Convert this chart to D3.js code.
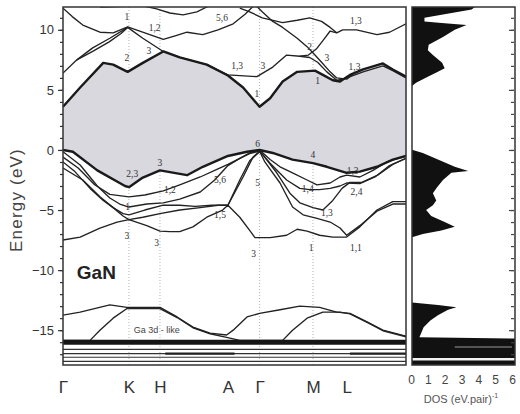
<!DOCTYPE html>
<html>
<head>
<meta charset="utf-8">
<script src="https://cdn.jsdelivr.net/npm/d3@7"></script>
<style>
  body { margin: 0; background: #fff; }
  svg { display: block; }
</style>
</head>
<body>
<svg id="chart" width="520" height="414"></svg>
<script>
// ---- k-path (arbitrary path-length units) ----
const kPoints = [0, 1.0, 1.47, 2.5, 2.98, 3.79, 4.3];
const kLabels = ["Γ", "K", "H", "A", "Γ", "M", "L"];
const kGuides = [1.0, 1.47, 2.98, 3.79];
const energyTicks = [-15, -10, -5, 0, 5, 10];
const dosTicks = [0, 1, 2, 3, 4, 5, 6];

// ---- bands: [k, E (eV)] ----
const cbLowest = [[0,3.6],[0.26,5.2],[0.61,7.25],[0.76,7.1],[0.98,6.5],[1.21,7.25],[1.52,8.2],[1.77,7.7],[2.18,7.1],[2.5,6.2],[2.73,5.2],[2.98,3.6],[3.14,4.3],[3.33,5.7],[3.55,6.5],[3.82,6.6],[3.94,6.25],[4.09,5.8],[4.2,5.7],[4.35,6.25],[4.55,6.7],[4.85,7.2],[5.0,6.7],[5.2,6.1]];
const vbTop = [[0,0],[0.15,-0.15],[0.52,-1.7],[0.94,-3.0],[1.0,-3.1],[1.21,-2.3],[1.47,-1.7],[1.88,-2.1],[2.12,-1.4],[2.5,-0.5],[2.79,-0.15],[2.98,0],[3.18,-0.25],[3.48,-0.8],[3.79,-1.1],[4.0,-1.4],[4.3,-1.9],[4.5,-1.8],[4.76,-1.4],[5.0,-0.8],[5.2,-0.5]];

const cbA = [[0,6.4],[0.21,7.5],[0.45,8.5],[0.71,9.3],[0.98,10.2],[1.21,9.3],[1.52,8.2],[1.77,7.7],[2.18,7.1],[2.5,6.25],[2.94,6.1],[3.18,6.9],[3.39,7.9],[3.59,7.8],[3.74,7.7],[3.86,7.3],[4.0,6.5],[4.15,5.8],[4.3,6.0],[4.55,6.5],[4.85,7.0],[5.0,6.6],[5.2,6.0]];
const cbB = [[0.21,7.5],[0.45,8.2],[0.7,9.0],[0.88,9.7],[0.98,10.2]];
const cbC = [[0,11.8],[0.14,11.1],[0.3,10.4],[0.56,9.8],[0.76,9.75],[0.98,10.25],[1.24,9.75],[1.52,9.2],[1.7,9.5],[1.88,9.8],[2.12,9.6],[2.35,10.0],[2.58,10.5],[2.76,11.3],[2.91,12.1]];
const cbD = [[2.91,12.1],[3.02,11.5],[3.18,10.7],[3.33,10.2],[3.55,9.3],[3.7,8.6],[3.82,7.9],[3.92,7.3],[4.05,6.5],[4.15,6.0],[4.3,5.9],[4.4,6.3]];
const cbE = [[2.68,11.8],[2.83,11.5],[3.02,11.0],[3.33,10.6],[3.55,10.8],[3.74,11.0],[3.92,10.7],[4.05,10.2],[4.15,9.75],[4.24,10.0],[4.45,10.0],[4.76,9.6],[4.95,9.8],[5.2,10.5]];
const cbF = [[3.59,7.8],[3.72,7.9],[3.84,8.4],[3.94,9.1],[4.05,9.9],[4.15,9.75]];
const cbG = [[0.56,11.9],[1.21,12.0],[1.42,11.75],[1.62,11.4],[1.82,11.25],[2.03,11.5],[2.18,11.9],[2.3,12.2]];

const vbA = [[0,-0.15],[0.26,-1.25],[0.52,-3.0],[0.71,-4.0],[0.86,-4.5],[1.0,-4.75],[1.27,-4.5],[1.52,-4.4],[1.77,-4.1],[2.08,-3.5],[2.3,-2.5],[2.5,-1.3],[2.68,-0.7],[2.83,-0.25],[2.98,0],[3.14,-0.8],[3.29,-1.4],[3.48,-1.9],[3.7,-2.5],[3.85,-2.9],[4.05,-2.75],[4.2,-2.25],[4.3,-2.1],[4.5,-2.25],[4.7,-1.7],[4.91,-1.0],[5.2,-0.5]];
const vbB = [[0,-0.6],[0.23,-1.5],[0.48,-2.9],[0.71,-3.7],[1.0,-3.9],[1.24,-3.75],[1.52,-3.4],[1.77,-2.9],[2.08,-2.25],[2.3,-1.7],[2.5,-1.2],[2.68,-0.7],[2.83,-0.3],[2.98,-0.1],[3.14,-1.1],[3.39,-2.5],[3.59,-3.2],[3.74,-3.3],[3.89,-3.3],[4.05,-3.2],[4.2,-3.0],[4.3,-2.75],[4.5,-2.8],[4.73,-2.25],[4.95,-1.3],[5.2,-0.7]];
const vbC = [[0,-1.0],[0.18,-1.8],[0.41,-3.2],[0.61,-4.2],[0.76,-4.8],[0.91,-5.3],[1.0,-5.4],[1.24,-5.0],[1.52,-4.6],[1.77,-4.6],[2.0,-4.7],[2.26,-4.6],[2.5,-4.6],[2.68,-2.5],[2.83,-0.9],[2.98,-0.15],[3.03,-0.4],[3.24,-1.9],[3.44,-3.6],[3.59,-4.4],[3.79,-4.8],[3.94,-5.0],[4.09,-4.2],[4.23,-3.2],[4.35,-2.7],[4.53,-2.7],[4.77,-2.1],[5.0,-1.2],[5.2,-0.7]];
const vbD = [[0,-1.5],[0.3,-2.5],[0.56,-3.9],[0.76,-4.8],[0.91,-5.5],[1.0,-5.8],[1.21,-5.6],[1.47,-5.3],[1.77,-5.0],[2.08,-4.8],[2.35,-4.6],[2.5,-4.6],[2.73,-2.25],[2.88,-0.6],[2.98,-0.1],[3.06,-1.0],[3.29,-2.75],[3.48,-4.75],[3.64,-5.4],[3.85,-5.7],[4.05,-6.0],[4.2,-6.5],[4.3,-7.1],[4.5,-6.3],[4.76,-5.1],[5.0,-4.5],[5.2,-4.5]];
const vbE = [[0,-7.5],[0.26,-7.25],[0.56,-6.5],[0.82,-6.0],[1.0,-5.8],[1.27,-6.3],[1.47,-6.75],[1.62,-6.8],[1.77,-6.8],[1.97,-6.4],[2.18,-5.6],[2.42,-5.0],[2.5,-4.6],[2.68,-5.6],[2.83,-6.7],[2.91,-7.3],[3.14,-7.3],[3.39,-7.1],[3.55,-6.6],[3.7,-6.75],[3.89,-7.1],[4.09,-7.25],[4.3,-7.25],[4.5,-6.4],[4.76,-5.0],[5.0,-4.3],[5.2,-4.3]];

// Ga 3d-like semicore bands
const dA = [[0,-13.75],[0.26,-13.5],[0.71,-12.9],[0.97,-13.1],[1.47,-13.1],[1.73,-13.9],[1.97,-14.75],[2.23,-15.25],[2.48,-15.4],[2.58,-15.0],[2.79,-13.9],[2.98,-13.6],[3.29,-13.3],[3.59,-13.0],[3.89,-13.1],[4.15,-13.5],[4.35,-13.6],[4.61,-14.3],[4.85,-15.0],[5.2,-15.5]];
const dB = [[0,-15.85],[0.41,-15.85],[0.56,-15.0],[0.76,-14.0],[0.97,-13.2],[1.47,-13.2],[1.73,-13.95],[1.97,-14.8],[2.23,-15.3],[2.48,-15.6],[2.68,-15.85],[3.33,-15.85],[3.48,-15.0],[3.7,-14.0],[3.94,-13.5],[4.2,-13.5],[4.35,-13.65],[4.61,-14.35],[4.85,-15.05],[5.2,-15.55]];
// flat bands: [kStart, kEnd, E]
const flatMain = [[0,5.2,-16.0]];
const flatBands = [[0,5.2,-16.6],[0,5.2,-16.95],[0,5.2,-17.25],[0,5.2,-17.6]];
const flatHeavy = [[1.55,2.6,-16.95],[4.35,5.2,-16.95]];

// ---- density of states: [E, DOS] ----
const dosE = [11.9,11.7,11.0,10.7,10.55,10.4,10.0,9.4,8.75,8.3,7.9,7.25,6.8,6.5,6.1,5.6,5.25,0.05,-0.25,-0.8,-1.4,-1.75,-1.9,-2.5,-3.1,-3.6,-4.2,-4.6,-5.0,-5.5,-6.0,-6.4,-6.7,-7.0,-7.3,-12.7,-12.9,-13.1,-13.3,-13.75,-14.2,-14.75,-15.25,-15.6,-15.7,-17.9];
const dosV = [3.8,3.6,0.8,0.8,2.0,3.3,2.6,1.9,1.05,1.0,1.3,1.85,2.0,1.6,1.0,0.3,0,0,0.7,1.6,2.6,3.4,2.4,1.9,1.55,1.3,1.5,1.3,0.9,1.2,2.0,2.6,1.8,0.7,0,0,1.6,2.7,2.2,1.6,1.15,0.75,0.6,0.5,6.5,6.5];

// ---- symmetry labels: [k, E, text] ----
const bandLabels = [
  [0.97,11.1,"1"],[1.39,10.2,"1,2"],[2.41,11.0,"5,6"],[0.97,7.7,"2"],[1.3,8.3,"3"],
  [2.64,7.0,"1,3"],[3.03,7.0,"3"],[2.94,4.7,"1"],[3.74,8.6,"2"],[4.0,7.7,"3"],
  [3.86,5.8,"1"],[4.44,10.8,"1,3"],[4.42,6.9,"1,3"],
  [1.05,-2.0,"2,3"],[1.47,-1.1,"3"],[1.62,-3.3,"1,2"],[0.98,-4.7,"1"],[2.38,-2.5,"5,6"],
  [2.38,-5.4,"1,5"],[2.95,0.5,"6"],[2.95,-2.75,"5"],[3.79,-0.4,"4"],[4.39,-1.7,"1,3"],
  [3.71,-3.2,"1,4"],[4.45,-3.5,"2,4"],[4.0,-5.25,"1,3"],[0.97,-7.1,"3"],[1.42,-7.7,"3"],
  [2.89,-8.6,"3"],[3.76,-8.1,"1"],[4.44,-8.1,"1,1"]
];

// ---- layout ----
const svg = d3.select("#chart");
const main = { left: 63, right: 406, top: 7, bottom: 365 };
const dosBox = { left: 412, right: 515 };

const x = d3.scaleLinear().domain([0, 5.2]).range([main.left, main.right]);
const y = d3.scaleLinear().domain([-17.9, 11.9]).range([main.bottom, main.top]);
const xd = d3.scaleLinear().domain([0, 6]).range([411, 512]);

const defs = svg.append("defs");
defs.append("clipPath").attr("id", "clipMain").append("rect")
  .attr("x", main.left).attr("y", main.top)
  .attr("width", main.right - main.left).attr("height", main.bottom - main.top);
defs.append("clipPath").attr("id", "clipDos").append("rect")
  .attr("x", dosBox.left).attr("y", main.top)
  .attr("width", dosBox.right - dosBox.left).attr("height", main.bottom - main.top);

const line = d3.line().x(d => x(d[0])).y(d => y(d[1]));
const plot = svg.append("g").attr("clip-path", "url(#clipMain)");

// dotted guides at symmetry points
plot.selectAll("line.guide").data(kGuides).join("line")
  .attr("class", "guide")
  .attr("x1", d => x(d)).attr("x2", d => x(d))
  .attr("y1", main.top).attr("y2", main.bottom)
  .attr("stroke", "#b4b4b4").attr("stroke-width", 1).attr("stroke-dasharray", "1,2");

// shaded gap between valence-band top and conduction-band bottom
plot.append("path")
  .attr("d", line(cbLowest.concat(vbTop.slice().reverse())) + "Z")
  .attr("fill", "#d8d8de");

// regular bands
const thinBands = [cbA, cbB, cbC, cbD, cbE, cbF, cbG, vbA, vbB, vbC, vbD, vbE, dA, dB];
plot.selectAll("path.band").data(thinBands).join("path")
  .attr("class", "band")
  .attr("d", line)
  .attr("fill", "none").attr("stroke", "#222").attr("stroke-width", 1.35)
  .attr("stroke-linejoin", "round");

// band-edge bands
plot.selectAll("path.edge").data([cbLowest, vbTop]).join("path")
  .attr("class", "edge")
  .attr("d", line)
  .attr("fill", "none").attr("stroke", "#1a1a1a").attr("stroke-width", 2.4)
  .attr("stroke-linejoin", "round");

// flat bands near the bottom
const flatLine = (sel, data, cls, width, color) =>
  sel.selectAll("line." + cls).data(data).join("line")
    .attr("class", cls)
    .attr("x1", d => x(d[0])).attr("x2", d => x(d[1]))
    .attr("y1", d => y(d[2])).attr("y2", d => y(d[2]))
    .attr("stroke", color).attr("stroke-width", width);
flatLine(plot, flatMain, "flatMain", 5, "#151515");
flatLine(plot, flatBands, "flat", 1.1, "#333");
flatLine(plot, flatHeavy, "flatHeavy", 2.4, "#222");

// symmetry labels
plot.selectAll("text.sym").data(bandLabels).join("text")
  .attr("class", "sym")
  .attr("x", d => x(d[0])).attr("y", d => y(d[1]))
  .attr("dy", "0.35em").attr("text-anchor", "middle")
  .attr("font-family", "Liberation Serif, Times New Roman, serif")
  .attr("font-size", 9.5).attr("fill", "#333")
  .text(d => d[2]);

// annotations
svg.append("text")
  .attr("x", x(0.21)).attr("y", y(-10.75))
  .attr("font-family", "Liberation Sans, Arial, sans-serif")
  .attr("font-weight", "bold").attr("font-size", 19).attr("fill", "#222")
  .text("GaN");
svg.append("text")
  .attr("x", x(1.42)).attr("y", y(-15.25))
  .attr("text-anchor", "middle")
  .attr("font-family", "Liberation Sans, Arial, sans-serif")
  .attr("font-size", 9).attr("fill", "#444")
  .text("Ga 3d - like");

// main frame
svg.append("rect")
  .attr("x", main.left).attr("y", main.top)
  .attr("width", main.right - main.left).attr("height", main.bottom - main.top)
  .attr("fill", "none").attr("stroke", "#333").attr("stroke-width", 1.5);

// energy axis
const yMajor = svg.append("g").attr("transform", `translate(${main.left},0)`)
  .call(d3.axisLeft(y).tickValues(energyTicks).tickSize(5).tickPadding(4));
const yMinor = svg.append("g").attr("transform", `translate(${main.left},0)`)
  .call(d3.axisLeft(y).tickValues(d3.range(-17, 12)).tickSize(3).tickFormat(""));
[yMajor, yMinor].forEach(g => {
  g.select(".domain").remove();
  g.selectAll("line").attr("stroke", "#333").attr("stroke-width", 1.2);
});
yMajor.selectAll("text")
  .attr("font-family", "Liberation Sans, Arial, sans-serif")
  .attr("font-size", 13).attr("fill", "#333");

svg.append("text")
  .attr("transform", "translate(22,200) rotate(-90)")
  .attr("text-anchor", "middle")
  .attr("font-family", "Liberation Sans, Arial, sans-serif")
  .attr("font-size", 17).attr("letter-spacing", 1.2).attr("fill", "#444")
  .text("Energy (eV)");

// k-point labels
const kAxis = svg.append("g").attr("transform", `translate(0,${main.bottom})`)
  .call(d3.axisBottom(x).tickValues(kPoints).tickSize(0).tickPadding(16)
    .tickFormat((d, i) => kLabels[i]));
kAxis.select(".domain").remove();
kAxis.selectAll("text")
  .attr("font-family", "Liberation Sans, Arial, sans-serif")
  .attr("font-size", 17).attr("fill", "#333");

// ---- DOS panel ----
const dosData = dosE.map((e, i) => [e, dosV[i]]);
const dosG = svg.append("g").attr("clip-path", "url(#clipDos)");
dosG.append("path")
  .datum(dosData)
  .attr("d", d3.area().y(d => y(d[0])).x0(xd(0)).x1(d => xd(d[1])))
  .attr("fill", "#111");
dosG.append("line")
  .attr("x1", xd(2.6)).attr("x2", xd(6))
  .attr("y1", y(-16.4)).attr("y2", y(-16.4))
  .attr("stroke", "#9a9a9a").attr("stroke-width", 1.2);
dosG.append("line")
  .attr("x1", dosBox.left).attr("x2", dosBox.right)
  .attr("y1", y(-17.42)).attr("y2", y(-17.42))
  .attr("stroke", "#f2f2f2").attr("stroke-width", 2.6);

svg.append("rect")
  .attr("x", dosBox.left).attr("y", main.top)
  .attr("width", dosBox.right - dosBox.left).attr("height", main.bottom - main.top)
  .attr("fill", "none").attr("stroke", "#333").attr("stroke-width", 1.5);

const dosRightMajor = svg.append("g").attr("transform", `translate(${dosBox.right - 1},0)`)
  .call(d3.axisLeft(y).tickValues(energyTicks).tickSize(5).tickFormat(""));
const dosRightMinor = svg.append("g").attr("transform", `translate(${dosBox.right - 1},0)`)
  .call(d3.axisLeft(y).tickValues(d3.range(-17, 12)).tickSize(3).tickFormat(""));
[dosRightMajor, dosRightMinor].forEach(g => {
  g.select(".domain").remove();
  g.selectAll("line").attr("stroke", "#444").attr("stroke-width", 1.2);
});

const dosAxis = svg.append("g").attr("transform", `translate(0,${main.bottom})`)
  .call(d3.axisBottom(xd).tickValues(dosTicks).tickSize(0).tickPadding(10)
    .tickFormat(d3.format("d")));
dosAxis.select(".domain").remove();
dosAxis.selectAll("text")
  .attr("font-family", "Liberation Sans, Arial, sans-serif")
  .attr("font-size", 12).attr("fill", "#444");

const dosTitle = svg.append("text")
  .attr("x", 461).attr("y", 403).attr("text-anchor", "middle")
  .attr("font-family", "Liberation Sans, Arial, sans-serif")
  .attr("font-size", 11).attr("fill", "#555");
dosTitle.append("tspan").text("DOS (eV.pair)");
dosTitle.append("tspan").attr("dy", -5).attr("font-size", 7).text("-1");
</script>
</body>
</html>
